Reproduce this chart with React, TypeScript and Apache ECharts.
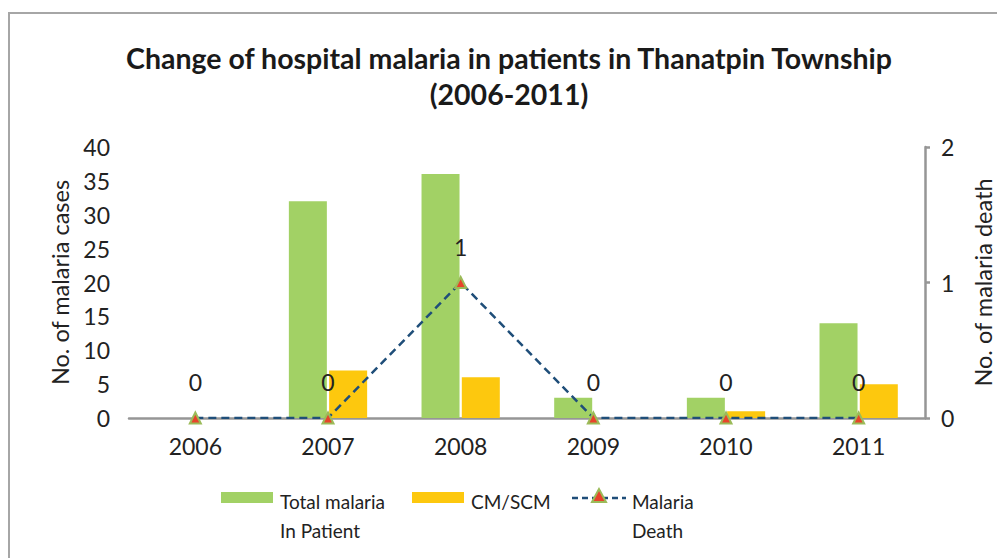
import React, { useEffect, useRef } from "react";
import * as echarts from "echarts";

const years = ["2006", "2007", "2008", "2009", "2010", "2011"];
const totalInPatient = [0, 32, 36, 3, 3, 14];
const cmScm = [0, 7, 6, 0, 1, 5];
const malariaDeath = [0, 0, 1, 0, 0, 0];

const titleLines = ["Change of hospital malaria in patients in Thanatpin Township", "(2006-2011)"];
const legendNames = ["Total malaria\nIn Patient", "CM/SCM", "Malaria\nDeath"];

const FONT = "Lato, 'Open Sans', sans-serif";
const GREEN = "#a2d165";
const YELLOW = "#fdc80e";
const BLUE = "#1f4e79";

export default function App() {
  const ref = useRef<HTMLDivElement>(null);
  useEffect(() => {
    if (!ref.current) return;
    const chart = echarts.init(ref.current, null, { renderer: "svg" });
    const legendY = 497;
    chart.setOption({
      animation: false,
      backgroundColor: "#ffffff",
      textStyle: { fontFamily: FONT },
      grid: { left: 129, right: 72, top: 147, bottom: 140, containLabel: false, outerBoundsMode: "none" },
      xAxis: {
        type: "category",
        data: years,
        axisLine: { show: true, lineStyle: { color: "#969696", width: 2.5 } },
        axisTick: { show: false },
        axisLabel: { fontSize: 23, color: "#222", margin: 16, fontFamily: FONT },
      },
      yAxis: [
        {
          type: "value",
          min: 0,
          max: 40,
          interval: 5,
          name: "No. of malaria cases",
          nameLocation: "middle",
          nameGap: 53,
          nameTextStyle: { fontSize: 23.5, color: "#222", fontFamily: FONT },
          axisLine: { show: false },
          axisTick: { show: false },
          splitLine: { show: false },
          axisLabel: { fontSize: 23, color: "#222", margin: 19, fontFamily: FONT },
        },
        {
          type: "value",
          min: 0,
          max: 2,
          interval: 1,
          position: "right",
          name: "No. of malaria death",
          nameLocation: "middle",
          nameGap: 46,
          nameRotate: 90,
          nameTextStyle: { fontSize: 23.5, color: "#222", fontFamily: FONT },
          axisLine: { show: true, lineStyle: { color: "#969696", width: 2.5 } },
          axisTick: { show: true, length: 5, lineStyle: { color: "#969696", width: 2.5 } },
          splitLine: { show: false },
          axisLabel: { fontSize: 23, color: "#222", margin: 16, fontFamily: FONT },
        },
      ],
      series: [
        {
          name: legendNames[0],
          type: "bar",
          data: totalInPatient,
          yAxisIndex: 0,
          barWidth: 38,
          barGap: "6%",
          itemStyle: { color: GREEN },
        },
        {
          name: legendNames[1],
          type: "bar",
          data: cmScm,
          yAxisIndex: 0,
          barWidth: 38,
          barGap: "6%",
          itemStyle: { color: YELLOW },
        },
        {
          name: legendNames[2],
          type: "line",
          data: malariaDeath,
          yAxisIndex: 1,
          z: 5,
          symbol: "triangle",
          symbolSize: 11,
          itemStyle: { color: "#e8432b", borderColor: "#9bbb59", borderWidth: 2 },
          lineStyle: { color: BLUE, width: 2.5, type: [8, 5] },
          label: { show: true, position: "top", distance: 18, fontSize: 23, color: "#222", fontFamily: FONT },
        },
      ],
      graphic: [
        {
          type: "rect",
          shape: { x: 9, y: 13, width: 1000, height: 560 },
          style: { fill: "none", stroke: "#a6a6a6", lineWidth: 2 },
          silent: true,
        },
        {
          type: "text",
          x: 509,
          y: 40,
          style: {
            text: titleLines.join("\n"),
            align: "center",
            verticalAlign: "top",
            fontSize: 28.5,
            fontWeight: "bold",
            fontFamily: FONT,
            fill: "#1a1a1a",
            lineHeight: 36,
          },
        },
        { type: "rect", shape: { x: 221, y: legendY - 5, width: 52, height: 11 }, style: { fill: GREEN } },
        {
          type: "text",
          x: 280,
          y: legendY - 10,
          style: { text: "Total malaria\nIn Patient", fontSize: 19, fontFamily: FONT, fill: "#222", lineHeight: 29 },
        },
        { type: "rect", shape: { x: 412, y: legendY - 5, width: 52, height: 11 }, style: { fill: YELLOW } },
        {
          type: "text",
          x: 471,
          y: legendY - 10,
          style: { text: "CM/SCM", fontSize: 19, fontFamily: FONT, fill: "#222", lineHeight: 29 },
        },
        {
          type: "line",
          shape: { x1: 572, y1: legendY + 1, x2: 626, y2: legendY + 1 },
          style: { stroke: BLUE, lineWidth: 2.5, lineDash: [6, 4] },
        },
        {
          type: "polygon",
          shape: { points: [[599, legendY - 8], [592, legendY + 5], [606, legendY + 5]] },
          style: { fill: "#e8432b", stroke: "#9bbb59", lineWidth: 2 },
        },
        {
          type: "text",
          x: 632,
          y: legendY - 10,
          style: { text: "Malaria\nDeath", fontSize: 19, fontFamily: FONT, fill: "#222", lineHeight: 29 },
        },
      ],
    });
    return () => chart.dispose();
  }, []);
  return (
    <div
      ref={ref}
      style={{ position: "absolute", left: 0, top: 0, width: 997, height: 558 }}
    />
  );
}
